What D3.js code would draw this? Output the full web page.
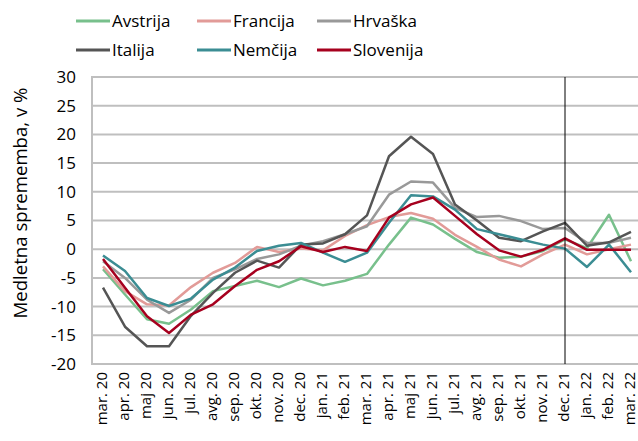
<!DOCTYPE html>
<html>
<head>
<meta charset="utf-8">
<script src="https://cdn.jsdelivr.net/npm/d3@7"></script>
<style>
  body { margin: 0; background: #fff; }
  svg { font-family: "Open Sans", sans-serif; }
</style>
</head>
<body>
<div id="chart"></div>
<script>
const months = ["mar. 20", "apr. 20", "maj 20", "jun. 20", "jul. 20", "avg. 20", "sep. 20", "okt. 20",
  "nov. 20", "dec. 20", "jan. 21", "feb. 21", "mar. 21", "apr. 21", "maj 21", "jun. 21", "jul. 21",
  "avg. 21", "sep. 21", "okt. 21", "nov. 21", "dec. 21", "jan. 22", "feb. 22", "mar. 22"];

const avstrija = [-3.5, -7.9, -12.2, -13.0, -10.5, -7.3, -6.4, -5.5, -6.6, -5.1, -6.3, -5.5, -4.3,
  0.8, 5.5, 4.3, 1.8, -0.5, -1.5, -1.3, -0.3, 1.7, 0.2, 6.0, -2.1];
const francija = [-3.0, -7.3, -9.6, -9.8, -6.6, -4.1, -2.4, 0.4, -0.5, 0.1, -0.2, 2.3, 4.2,
  5.6, 6.3, 5.3, 2.5, 0.4, -1.8, -3.0, -0.9, 0.8, -0.9, 0.0, 0.8];
const hrvaska = [-2.1, -5.0, -8.8, -11.1, -8.8, -5.0, -3.5, -1.7, -0.9, 0.6, 1.4, 2.6, 4.0,
  9.5, 11.8, 11.6, 7.2, 5.6, 5.8, 4.9, 3.5, 3.7, 1.1, 1.1, 2.0];
const italija = [-6.7, -13.5, -16.9, -16.9, -11.6, -7.6, -4.1, -2.0, -3.2, 0.8, 1.0, 2.6, 5.9,
  16.2, 19.6, 16.6, 7.8, 5.0, 2.0, 1.4, 3.1, 4.6, 0.6, 1.2, 3.0];
const nemcija = [-1.1, -3.8, -8.5, -9.9, -8.6, -5.3, -3.2, -0.3, 0.6, 1.1, -0.6, -2.2, -0.6,
  4.6, 9.4, 9.2, 6.9, 3.5, 2.6, 1.7, 0.8, 0.1, -3.1, 0.8, -4.0];
const slovenija = [-1.7, -6.7, -11.7, -14.6, -11.4, -9.6, -6.4, -3.6, -2.1, 0.5, -0.5, 0.4, -0.3,
  5.5, 7.8, 9.0, 5.8, 2.6, -0.2, -1.3, -0.1, 1.9, -0.1, -0.1, -0.1];

const seriesNames = ["Avstrija", "Francija", "Hrvaška", "Italija", "Nemčija", "Slovenija"];
const seriesValues = [avstrija, francija, hrvaska, italija, nemcija, slovenija];
const seriesColors = ["#78c08c", "#e29b98", "#999999", "#555555", "#3b8d93", "#a6001e"];
const yTicks = [-20, -15, -10, -5, 0, 5, 10, 15, 20, 25, 30];
const markerMonth = "dec. 21";

const width = 638, height = 441;
const margin = { top: 77, right: 7, bottom: 77, left: 92 };

const svg = d3.select("#chart").append("svg")
  .attr("width", width)
  .attr("height", height);

const x = d3.scalePoint()
  .domain(months)
  .range([103, 631]);

const y = d3.scaleLinear()
  .domain([-20, 30])
  .range([height - margin.bottom, margin.top]);

// grid lines
svg.append("g")
  .selectAll("line")
  .data(yTicks)
  .join("line")
  .attr("x1", margin.left)
  .attr("x2", width)
  .attr("y1", d => y(d))
  .attr("y2", d => y(d))
  .attr("stroke", "#bfbfbf")
  .attr("stroke-width", 2);

svg.append("line")
  .attr("x1", margin.left).attr("x2", margin.left)
  .attr("y1", y(30) - 1).attr("y2", y(-20) + 1)
  .attr("stroke", "#bfbfbf")
  .attr("stroke-width", 2);

// y tick labels
svg.append("g")
  .selectAll("text")
  .data(yTicks)
  .join("text")
  .attr("x", 76)
  .attr("y", d => y(d))
  .attr("dy", "0.35em")
  .attr("text-anchor", "end")
  .attr("font-size", 17)
  .attr("fill", "#000")
  .text(d => d);

// x tick labels
svg.append("g")
  .selectAll("text")
  .data(months)
  .join("text")
  .attr("transform", d => `translate(${x(d) + 4},${y(-20) + 8}) rotate(-90)`)
  .attr("text-anchor", "end")
  .attr("font-size", 15)
  .attr("fill", "#000")
  .text(d => d);

// y axis title
svg.append("text")
  .attr("transform", `translate(27,203) rotate(-90)`)
  .attr("text-anchor", "middle")
  .attr("font-size", 18)
  .attr("textLength", 231)
  .attr("lengthAdjust", "spacingAndGlyphs")
  .attr("fill", "#000")
  .text("Medletna sprememba, v %");

// lines
const line = d3.line()
  .x((d, i) => x(months[i]))
  .y(d => y(d));

svg.append("g")
  .selectAll("path")
  .data(seriesValues)
  .join("path")
  .attr("d", d => line(d))
  .attr("fill", "none")
  .attr("stroke", (d, i) => seriesColors[i])
  .attr("stroke-width", 2.5)
  .attr("stroke-linejoin", "round");

// vertical marker line
svg.append("line")
  .attr("x1", x(markerMonth)).attr("x2", x(markerMonth))
  .attr("y1", y(30)).attr("y2", y(-20))
  .attr("stroke", "#000")
  .attr("stroke-width", 1);

// legend
const legend = svg.append("g");
const legendCols = [76, 197, 317];
const legendRows = [21, 50];
seriesNames.forEach((name, i) => {
  const lx = legendCols[i % 3];
  const ly = legendRows[Math.floor(i / 3)];
  legend.append("line")
    .attr("x1", lx).attr("x2", lx + 34)
    .attr("y1", ly).attr("y2", ly)
    .attr("stroke", seriesColors[i])
    .attr("stroke-width", 3);
  legend.append("text")
    .attr("x", lx + 36)
    .attr("y", ly)
    .attr("dy", "0.35em")
    .attr("font-size", 17)
    .attr("fill", "#000")
    .text(name);
});
</script>
</body>
</html>
